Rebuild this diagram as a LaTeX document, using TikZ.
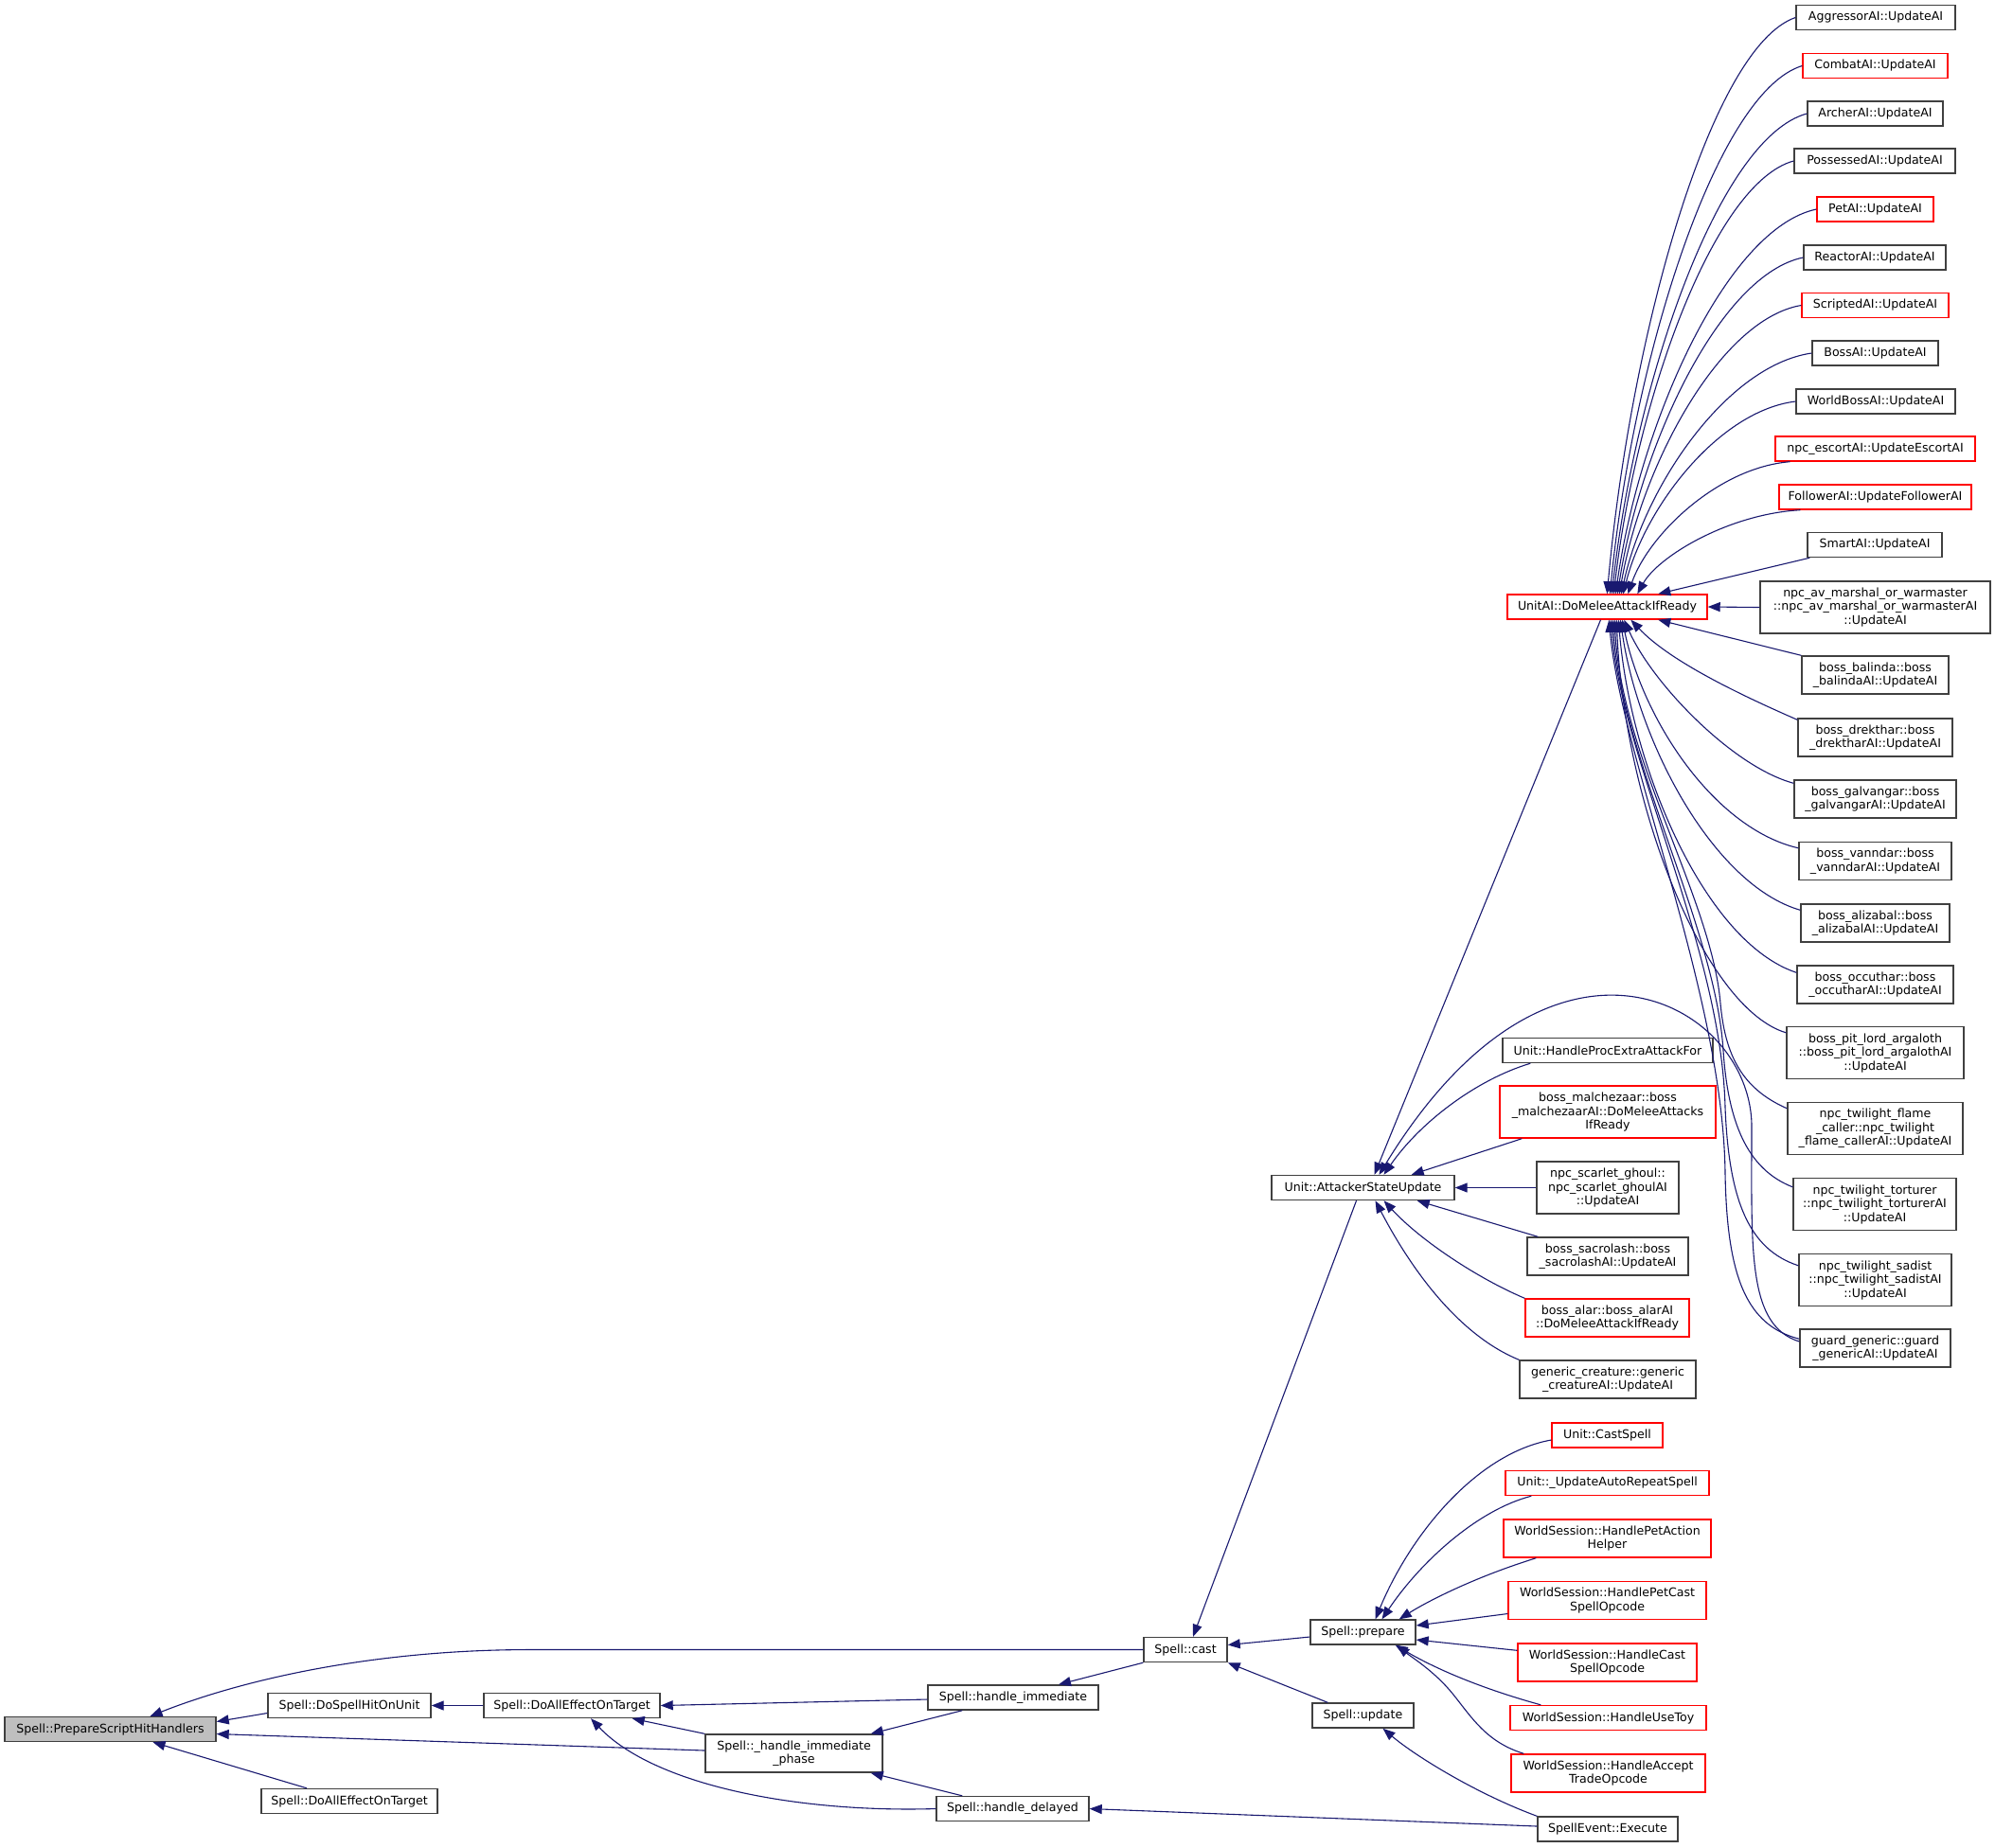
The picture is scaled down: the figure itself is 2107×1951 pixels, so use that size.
\documentclass[tikz,border=0pt]{standalone}
\usepackage{fontspec}
\newfontfamily\dejavu{DejaVu Sans}
\usetikzlibrary{arrows.meta,calc}
\definecolor{edgeblue}{HTML}{191970}
\definecolor{boxgray}{HTML}{404040}
\definecolor{boxred}{HTML}{FF0000}
\definecolor{rootfill}{HTML}{BFBFBF}
\tikzset{
  box/.style={draw=boxgray, line width=0.7pt, fill=white, inner sep=0pt, align=center,
    font=\dejavu\fontsize{6.3}{7.25}\selectfont},
  rbox/.style={box, draw=boxred},
  gbox/.style={box, fill=rootfill},
  e/.style={draw=edgeblue, line width=0.55pt, -{Triangle[length=6.5pt,width=5pt]}},
}
\newcommand\nd[7]{\node[#1, minimum width=#5*0.5pt, minimum height=#6*0.5pt] (#2) at (#3,#4) {#7};}
\begin{document}
\begin{tikzpicture}[x=0.5pt,y=-0.5pt]
\fill[white] (0,0) rectangle (2107,1951);
\useasboundingbox (0,0) rectangle (2107,1951);
% ---- left / bottom nodes
\nd{gbox}{root}{116.5}{1826.5}{223}{26}{Spell::PrepareScriptHitHandlers}
\nd{box}{hit}{369}{1801.5}{172}{26}{Spell::DoSpellHitOnUnit}
\nd{box}{dae1}{604}{1801.5}{186}{26}{Spell::DoAllEffectOnTarget}
\nd{box}{dae2}{369}{1902.5}{186}{26}{Spell::DoAllEffectOnTarget}
\nd{box}{phase}{838.5}{1852}{187}{40}{Spell::\_handle\_immediate\\\_phase}
\nd{box}{himm}{1070}{1793}{180}{26}{Spell::handle\_immediate}
\nd{box}{hdel}{1069.5}{1910.5}{161}{26}{Spell::handle\_delayed}
\nd{box}{cast}{1252}{1742.5}{88}{26}{Spell::cast}
\nd{box}{prep}{1439.5}{1724}{111}{26}{Spell::prepare}
\nd{box}{upd}{1439.5}{1812}{107}{26}{Spell::update}
\nd{box}{att}{1439.5}{1254.5}{193}{26}{Unit::AttackerStateUpdate}
% ---- middle column
\nd{rbox}{unit}{1697.5}{641}{211}{26}{UnitAI::DoMeleeAttackIfReady}
\nd{box}{proc}{1698}{1109.5}{222}{26}{Unit::HandleProcExtraAttackFor}
\nd{rbox}{mal}{1698}{1174.5}{228}{55}{boss\_malchezaar::boss\\\_malchezaarAI::DoMeleeAttacks\\IfReady}
\nd{box}{scar}{1698}{1254.5}{150}{55}{npc\_scarlet\_ghoul::\\npc\_scarlet\_ghoulAI\\::UpdateAI}
\nd{box}{sac}{1698}{1327}{170}{40}{boss\_sacrolash::boss\\\_sacrolashAI::UpdateAI}
\nd{rbox}{alar}{1697.5}{1392}{173}{40}{boss\_alar::boss\_alarAI\\::DoMeleeAttackIfReady}
\nd{box}{gen}{1698}{1457}{186}{40}{generic\_creature::generic\\\_creatureAI::UpdateAI}
\nd{rbox}{cs}{1697.5}{1516}{117}{26}{Unit::CastSpell}
\nd{rbox}{ar}{1697.5}{1566.5}{215}{26}{Unit::\_UpdateAutoRepeatSpell}
\nd{rbox}{pah}{1697.5}{1625}{219}{40}{WorldSession::HandlePetAction\\Helper}
\nd{rbox}{pcs}{1697.5}{1690.5}{209}{40}{WorldSession::HandlePetCast\\SpellOpcode}
\nd{rbox}{css}{1697.5}{1756}{189}{40}{WorldSession::HandleCast\\SpellOpcode}
\nd{rbox}{toy}{1698.5}{1814.5}{207}{26}{WorldSession::HandleUseToy}
\nd{rbox}{act}{1698.5}{1873}{205}{40}{WorldSession::HandleAccept\\TradeOpcode}
\nd{box}{exe}{1698}{1932}{148}{26}{SpellEvent::Execute}
% ---- right column
\nd{box}{agg}{1981}{18.5}{168}{26}{AggressorAI::UpdateAI}
\nd{rbox}{combat}{1980.5}{69.5}{153}{26}{CombatAI::UpdateAI}
\nd{box}{archer}{1980.5}{120}{143}{26}{ArcherAI::UpdateAI}
\nd{box}{poss}{1980}{170}{170}{26}{PossessedAI::UpdateAI}
\nd{rbox}{pet}{1980.5}{221}{123}{26}{PetAI::UpdateAI}
\nd{box}{react}{1980}{272}{150}{26}{ReactorAI::UpdateAI}
\nd{rbox}{script}{1980.5}{322.5}{155}{26}{ScriptedAI::UpdateAI}
\nd{box}{boss}{1980.5}{373}{133}{26}{BossAI::UpdateAI}
\nd{box}{wboss}{1981}{424}{168}{26}{WorldBossAI::UpdateAI}
\nd{rbox}{esc}{1980.5}{474}{211}{26}{npc\_escortAI::UpdateEscortAI}
\nd{rbox}{foll}{1980.5}{525}{203}{26}{FollowerAI::UpdateFollowerAI}
\nd{box}{smart}{1980}{575.5}{142}{26}{SmartAI::UpdateAI}
\nd{box}{av}{1980.5}{641.5}{243}{55}{npc\_av\_marshal\_or\_warmaster\\::npc\_av\_marshal\_or\_warmasterAI\\::UpdateAI}
\nd{box}{bal}{1980.5}{713}{155}{40}{boss\_balinda::boss\\\_balindaAI::UpdateAI}
\nd{box}{drek}{1980.5}{779}{163}{40}{boss\_drekthar::boss\\\_drektharAI::UpdateAI}
\nd{box}{galv}{1980.5}{844}{171}{40}{boss\_galvangar::boss\\\_galvangarAI::UpdateAI}
\nd{box}{vann}{1980.5}{909.5}{161}{40}{boss\_vanndar::boss\\\_vanndarAI::UpdateAI}
\nd{box}{aliz}{1980.5}{975}{157}{40}{boss\_alizabal::boss\\\_alizabalAI::UpdateAI}
\nd{box}{occ}{1980.5}{1040}{165}{40}{boss\_occuthar::boss\\\_occutharAI::UpdateAI}
\nd{box}{pit}{1980.5}{1112}{187}{55}{boss\_pit\_lord\_argaloth\\::boss\_pit\_lord\_argalothAI\\::UpdateAI}
\nd{box}{flame}{1980.5}{1192}{185}{55}{npc\_twilight\_flame\\\_caller::npc\_twilight\\\_flame\_callerAI::UpdateAI}
\nd{box}{tort}{1980}{1272}{172}{55}{npc\_twilight\_torturer\\::npc\_twilight\_torturerAI\\::UpdateAI}
\nd{box}{sad}{1980.5}{1352}{161}{55}{npc\_twilight\_sadist\\::npc\_twilight\_sadistAI\\::UpdateAI}
\nd{box}{guard}{1980.5}{1424}{159}{40}{guard\_generic::guard\\\_genericAI::UpdateAI}

% ==== edges (caller -> callee, arrowhead at callee)
\draw[e] (cast.west) -- (560,1742.5) .. controls (400,1742.5) and (262,1772) .. ($(root.north)+(42,0)$);
\draw[e] ($(hit.west)+(0,8)$) -- ($(root.east)+(0,-8)$);
\draw[e] ($(phase.west)+(0,-3)$) -- ($(root.east)+(0,5)$);
\draw[e] ($(dae2.north)+(-45,0)$) -- ($(root.south)+(45,0)$);
\draw[e] (dae1.west) -- (hit.east);
\draw[e] ($(himm.west)+(0,2)$) -- (dae1.east);
\draw[e] (phase.north west) -- ($(dae1.south east)+(-30,0)$);
\draw[e] (hdel.west) .. controls (840,1915) and (690,1885) .. ($(dae1.south)+(20,0)$);
\draw[e] ($(himm.south west)+(37,0)$) -- ($(phase.north east)+(-13,0)$);
\draw[e] ($(hdel.north west)+(28,0)$) -- ($(phase.south east)+(-13,0)$);
\draw[e] (cast.south west) -- ($(himm.north)+(48,0)$);
\draw[e] ($(att.south)+(-7,0)$) -- ($(cast.north)+(8,0)$);
\draw[e] ($(prep.west)+(0,5)$) -- ($(cast.east)+(0,-5)$);
\draw[e] ($(upd.north west)+(17,0)$) -- (cast.south east);
\draw[e] (exe.north west) .. controls (1560,1895) and (1495,1855) .. ($(upd.south)+(21,0)$);
\draw[e] ($(exe.west)+(0,-3)$) -- (hdel.east);
% prepare callers
\draw[e] ($(cs.west)+(0,5)$) .. controls (1560,1535) and (1490,1620) .. ($(prep.north)+(13,0)$);
\draw[e] ($(ar.south west)+(28,0)$) .. controls (1560,1595) and (1500,1650) .. ($(prep.north)+(20,0)$);
\draw[e] ($(pah.south west)+(35,0)$) .. controls (1560,1665) and (1510,1690) .. ($(prep.north east)+(-18,0)$);
\draw[e] ($(pcs.west)+(0,14)$) -- ($(prep.east)+(0,-7)$);
\draw[e] ($(css.north west)+(0,8)$) -- ($(prep.east)+(0,8)$);
\draw[e] ($(toy.north west)+(33,0)$) .. controls (1570,1785) and (1520,1765) .. ($(prep.south east)+(-22,0)$);
\draw[e] ($(act.north west)+(14,0)$) .. controls (1570,1840) and (1555,1815) .. (1535,1790) .. controls (1515,1765) and (1490,1750) .. ($(prep.south east)+(-20,0)$);
% AttackerStateUpdate callers
\draw[e] ($(unit.south)+(-7,0)$) -- ($(att.north)+(12,0)$);
\draw[e] ($(proc.south west)+(30,0)$) .. controls (1560,1140) and (1500,1185) .. ($(att.north)+(22,0)$);
\draw[e] ($(guard.west)+(0,-7)$) .. controls (1845,1400) and (1850,1320) .. (1850,1190) .. controls (1850,1060) and (1640,940) .. ($(att.north)+(17,0)$);
\draw[e] ($(mal.south west)+(24,0)$) -- ($(att.north east)+(-46,0)$);
\draw[e] (scar.west) -- (att.east);
\draw[e] ($(sac.north west)+(12,0)$) -- ($(att.south east)+(-40,0)$);
\draw[e] (alar.north west) .. controls (1560,1350) and (1500,1310) .. ($(att.south)+(22,0)$);
\draw[e] (gen.north west) .. controls (1540,1410) and (1490,1340) .. ($(att.south)+(13,0)$);
% UnitAI callers, above
\draw[e] (agg.west) .. controls (1807,49) and (1722,354) .. ($(unit.north west)+(106,0)$);
\draw[e] (combat.west) .. controls (1813,97) and (1725,377) .. ($(unit.north west)+(109,0)$);
\draw[e] (archer.west) .. controls (1816,145) and (1728,399) .. ($(unit.north west)+(111,0)$);
\draw[e] (poss.west) .. controls (1810,193) and (1728,422) .. ($(unit.north west)+(113,0)$);
\draw[e] (pet.west) .. controls (1824,241) and (1732,445) .. ($(unit.north west)+(115,0)$);
\draw[e] (react.west) .. controls (1817,290) and (1733,468) .. ($(unit.north west)+(117,0)$);
\draw[e] (script.west) .. controls (1817,337) and (1734,490) .. ($(unit.north west)+(119,0)$);
\draw[e] (boss.west) .. controls (1824,386) and (1737,513) .. ($(unit.north west)+(121,0)$);
\draw[e] (wboss.west) .. controls (1815,434) and (1737,536) .. ($(unit.north west)+(123,0)$);
\draw[e] ($(esc.south west)+(16,0)$) .. controls (1814,494) and (1741,565) .. ($(unit.north west)+(128,0)$);
\draw[e] ($(foll.south west)+(23,0)$) .. controls (1825,543) and (1751,588) .. ($(unit.north west)+(138,0)$);
\draw[e] ($(smart.south west)+(3,0)$) -- ($(unit.north west)+(160,0)$);
\draw[e] (av.west) -- (unit.east);
% UnitAI callers, below
\draw[e] (bal.north west) -- ($(unit.south west)+(160,0)$);
\draw[e] ($(drek.north west)+(0,2)$) .. controls (1845,737) and (1765,700) .. ($(unit.south west)+(131,0)$);
\draw[e] ($(galv.north west)+(0,4)$) .. controls (1830,810) and (1745,722) .. ($(unit.south west)+(124,0)$);
\draw[e] ($(vann.north west)+(0,7)$) .. controls (1810,875) and (1735,760) .. ($(unit.south west)+(122,0)$);
\draw[e] ($(aliz.north west)+(0,7)$) .. controls (1810,935) and (1730,785) .. ($(unit.south west)+(120,0)$);
\draw[e] ($(occ.north west)+(0,8)$) .. controls (1800,995) and (1722,810) .. ($(unit.south west)+(118,0)$);
\draw[e] ($(pit.north west)+(0,7)$) .. controls (1800,1065) and (1715,850) .. ($(unit.south west)+(116,0)$);
\draw[e] ($(flame.north west)+(0,7)$) .. controls (1840,1150) and (1822,1115) .. (1817,1060) .. controls (1808,950) and (1712,800) .. ($(unit.south west)+(114,0)$);
\draw[e] ($(tort.north west)+(0,10)$) .. controls (1845,1235) and (1825,1185) .. (1820,1110) .. controls (1812,980) and (1712,800) .. ($(unit.south west)+(112,0)$);
\draw[e] ($(sad.north west)+(0,13)$) .. controls (1848,1320) and (1826,1270) .. (1822,1170) .. controls (1818,1000) and (1712,800) .. ($(unit.south west)+(110,0)$);
\draw[e] ($(guard.north west)+(0,11)$) .. controls (1845,1400) and (1824,1350) .. (1822,1240) .. controls (1820,1050) and (1712,800) .. ($(unit.south west)+(108,0)$);
\end{tikzpicture}
\end{document}
